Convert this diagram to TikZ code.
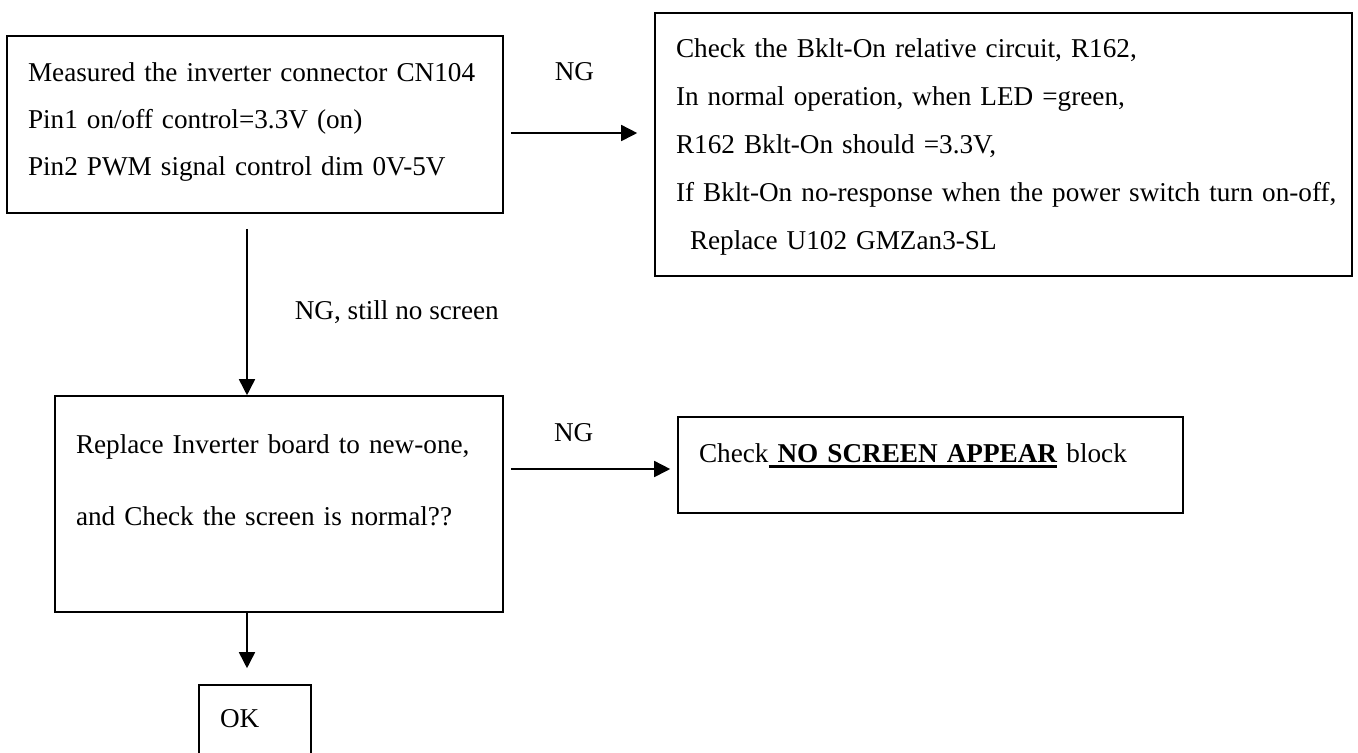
\documentclass[tikz,border=0pt]{standalone}
\usepackage{fontspec}
\setmainfont{Liberation Serif}
\usepackage{tikz}
\usetikzlibrary{arrows.meta}

% thick underline as in the printed sheet
\newcommand{\thickul}[1]{\setbox0\hbox{#1}\rlap{\rule[-2.75pt]{\wd0}{1.25pt}}\box0\relax}

\begin{document}
\begin{tikzpicture}[x=0.5pt, y=-0.5pt, font=\fontsize{13.6}{23.5}\selectfont]
        \tikzstyle{box} = [rectangle, draw=black, line width=0.8pt, align=left, text height=0pt, inner sep=2pt]
        \tikzstyle{flow} = [-{Triangle[length=8pt, width=8pt]}, line width=0.8pt]

        \useasboundingbox (0,0) rectangle (1358,752);
        \clip (0,0) rectangle (1358,752);

        \node (measure) [box, minimum width=248pt, minimum height=88.5pt, text width=227pt, text depth=43.5pt] at (255,124.5)
            {Measured the inverter connector CN104\\
             Pin1 on/off control=3.3V (on)\\
             Pin2 PWM signal control dim 0V-5V};
        \node (bklt) [box, minimum width=348.5pt, minimum height=131.5pt, text width=327.5pt, text depth=87.5pt, font=\fontsize{13.6}{24}\selectfont] at (1003.5,144.5)
            {Check the Bklt-On relative circuit, R162,\\
             In normal operation, when LED =green,\\
             R162 Bklt-On should =3.3V,\\
             \mbox{If Bklt-On no-response when the power switch turn on-off,}\\
             \hspace*{7pt}Replace U102 GMZan3-SL};
        \node (inverter) [box, minimum width=224pt, minimum height=108pt, text width=203pt, text depth=51pt, font=\fontsize{13.6}{36}\selectfont] at (279,504)
            {Replace Inverter board to new-one,\\
             and Check the screen is normal??};
        \node (noscreen) [box, minimum width=252.5pt, minimum height=48pt, text width=231.5pt, text depth=3pt] at (930.5,465)
            {Check\thickul{\ \textbf{NO SCREEN APPEAR}} block};
        \node (ok) [box, minimum width=56pt, minimum height=42.5pt, text width=35pt, text depth=0pt] at (255,727.5) {OK};

        \draw [flow, shorten <=3.5pt, shorten >=8.5pt] ([yshift=-4.25pt]measure.east) -- ([yshift=5.75pt]bklt.west)
            node [pos=0.47, anchor=base, yshift=26.5pt] {NG};
        \draw [flow, shorten <=7.5pt] ([xshift=-4pt]measure.south) -- ([xshift=-16pt]inverter.north)
            node [pos=0.585, anchor=base west, inner sep=0pt, xshift=23.5pt] {NG, still no screen};
        \draw [flow, shorten <=3.5pt, shorten >=3.5pt] ([yshift=17.5pt]inverter.east) -- ([yshift=-2pt]noscreen.west)
            node [pos=0.403, anchor=base, yshift=14pt] {NG};
        \draw [flow, shorten >=8pt] ([xshift=-16pt]inverter.south) -- ([xshift=-4pt]ok.north);
\end{tikzpicture}
\end{document}
